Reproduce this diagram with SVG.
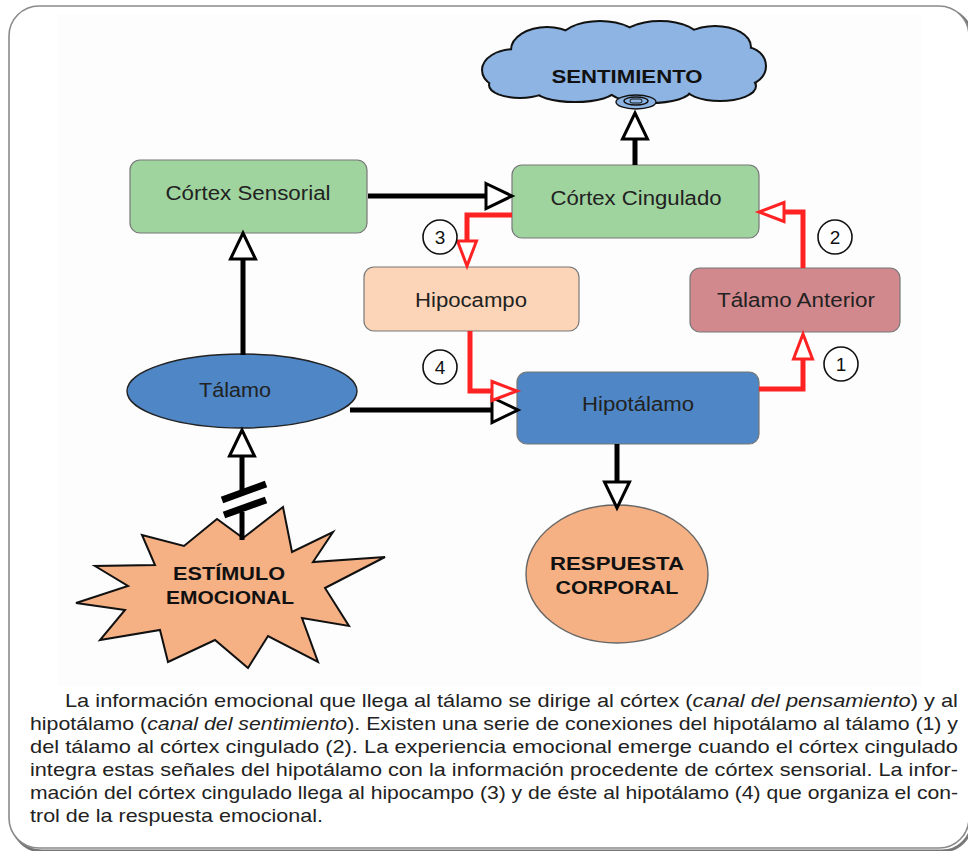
<svg xmlns="http://www.w3.org/2000/svg" width="968" height="851" viewBox="0 0 968 851">
<style>
.lbl{font-family:"Liberation Sans",Arial,sans-serif;font-size:20px;fill:#222;text-anchor:middle}
.bold{font-family:"Liberation Sans",Arial,sans-serif;font-size:19px;font-weight:bold;fill:#111;text-anchor:middle}
.num{font-family:"Liberation Sans",Arial,sans-serif;font-size:19px;fill:#111;text-anchor:middle}
.para{font-family:"Liberation Sans",Arial,sans-serif;font-size:19px;fill:#222}
.box{stroke:#777;stroke-width:1.2}
.blk{fill:none;stroke:#000;stroke-width:5}
.red{fill:none;stroke:#f22;stroke-width:5}
.circ{fill:#fff;stroke:#111;stroke-width:1.6}
.cs{fill:none;stroke:#111;stroke-width:4}
.cf{fill:#8db4e2;stroke:none}
</style>
<defs>
<marker id="ab" markerUnits="userSpaceOnUse" markerWidth="32" markerHeight="32" refX="1.5" refY="14" orient="auto" overflow="visible">
<path d="M1.5,1.5 L27.5,14 L1.5,26.5 Z" fill="#fff" stroke="#000" stroke-width="3" stroke-linejoin="miter"/>
</marker>
<marker id="ar" markerUnits="userSpaceOnUse" markerWidth="32" markerHeight="32" refX="1.5" refY="11" orient="auto" overflow="visible">
<path d="M1.5,1.5 L26.5,11 L1.5,20.5 Z" fill="#fff" stroke="#f22" stroke-width="3"/>
</marker>
</defs>

<g id="frame">
<rect x="12" y="9" width="960" height="842" rx="30" fill="none" stroke="#777" stroke-width="3"/>
<rect x="9" y="6" width="960" height="842" rx="30" fill="#fff" stroke="#8a8a8a" stroke-width="1.6"/>
<rect x="58" y="14" width="864" height="672" fill="#fdfdfd"/>
</g>

<g id="sentimiento">
<ellipse class="cs" cx="625" cy="68" rx="130" ry="26"/>
<ellipse class="cs" cx="515" cy="70" rx="32" ry="20"/>
<ellipse class="cs" cx="547" cy="50" rx="35" ry="22"/>
<ellipse class="cs" cx="600" cy="42" rx="40" ry="20"/>
<ellipse class="cs" cx="660" cy="41" rx="40" ry="19"/>
<ellipse class="cs" cx="715" cy="47" rx="35" ry="20"/>
<ellipse class="cs" cx="745" cy="66" rx="20" ry="18"/>
<ellipse class="cs" cx="720" cy="86" rx="35" ry="14"/>
<ellipse class="cs" cx="650" cy="90" rx="40" ry="12"/>
<ellipse class="cs" cx="575" cy="89" rx="40" ry="12"/>
<ellipse class="cs" cx="520" cy="85" rx="30" ry="12"/>
<ellipse class="cf" cx="625" cy="68" rx="130" ry="26"/>
<ellipse class="cf" cx="515" cy="70" rx="32" ry="20"/>
<ellipse class="cf" cx="547" cy="50" rx="35" ry="22"/>
<ellipse class="cf" cx="600" cy="42" rx="40" ry="20"/>
<ellipse class="cf" cx="660" cy="41" rx="40" ry="19"/>
<ellipse class="cf" cx="715" cy="47" rx="35" ry="20"/>
<ellipse class="cf" cx="745" cy="66" rx="20" ry="18"/>
<ellipse class="cf" cx="720" cy="86" rx="35" ry="14"/>
<ellipse class="cf" cx="650" cy="90" rx="40" ry="12"/>
<ellipse class="cf" cx="575" cy="89" rx="40" ry="12"/>
<ellipse class="cf" cx="520" cy="85" rx="30" ry="12"/>
<ellipse cx="636" cy="102" rx="20" ry="7" fill="#8db4e2" stroke="#111" stroke-width="1.4"/>
<ellipse cx="636" cy="101" rx="12" ry="4" fill="#8db4e2" stroke="#111" stroke-width="1.4"/>
<rect x="630" y="99" width="12" height="4" rx="2" fill="#8db4e2" stroke="#111" stroke-width="1"/>
<text class="bold" x="627" y="83" font-size="20" textLength="151" lengthAdjust="spacingAndGlyphs">SENTIMIENTO</text>
</g>

<g id="cortex-sensorial">
<rect class="box" x="130" y="160" width="237" height="73" rx="10" fill="#9fd49f"/>
<text class="lbl" x="248" y="200" textLength="165" lengthAdjust="spacingAndGlyphs">Córtex Sensorial</text>
</g>

<g id="cortex-cingulado">
<rect class="box" x="512" y="165" width="247" height="73" rx="10" fill="#9fd49f"/>
<text class="lbl" x="636" y="205" textLength="171" lengthAdjust="spacingAndGlyphs">Córtex Cingulado</text>
</g>

<g id="hipocampo">
<rect class="box" x="364" y="267" width="215" height="64" rx="10" fill="#fcd5b8"/>
<text class="lbl" x="471" y="307" textLength="112" lengthAdjust="spacingAndGlyphs">Hipocampo</text>
</g>

<g id="talamo-anterior">
<rect class="box" x="690" y="268" width="210" height="64" rx="10" fill="#d2898e"/>
<text class="lbl" x="796" y="307" textLength="158" lengthAdjust="spacingAndGlyphs">Tálamo Anterior</text>
</g>

<g id="hipotalamo">
<rect class="box" x="517" y="372" width="242" height="72" rx="10" fill="#4e86c6"/>
<text class="lbl" x="638" y="411" textLength="112" lengthAdjust="spacingAndGlyphs">Hipotálamo</text>
</g>

<g id="talamo">
<ellipse cx="242" cy="391" rx="115" ry="37" fill="#4e86c6" stroke="#222" stroke-width="1.4"/>
<text class="lbl" x="235" y="397" textLength="72" lengthAdjust="spacingAndGlyphs">Tálamo</text>
</g>

<g id="respuesta-corporal">
<ellipse cx="617" cy="574" rx="91" ry="69" fill="#f5b184" stroke="#666" stroke-width="1.4"/>
<text class="bold" x="617" y="570" font-size="20" textLength="134" lengthAdjust="spacingAndGlyphs">RESPUESTA</text>
<text class="bold" x="617" y="594" font-size="20" textLength="123" lengthAdjust="spacingAndGlyphs">CORPORAL</text>
</g>

<g id="estimulo-emocional">
<polygon points="283,507 292,552 333,532 313,562 385,557 325,588 349,626 302,618 318,662 268,636 248,668 215,640 168,662 160,630 100,640 125,610 76,603 128,586 95,566 155,565 142,535 184,546 217,519 243,538" fill="#f5b084" stroke="#111" stroke-width="2" stroke-linejoin="miter"/>
<text class="bold" x="229" y="580" font-size="20" textLength="112" lengthAdjust="spacingAndGlyphs">ESTÍMULO</text>
<text class="bold" x="230" y="604" font-size="20" textLength="128" lengthAdjust="spacingAndGlyphs">EMOCIONAL</text>
</g>

<g id="connectors">
<path class="blk" d="M243,355 L243,259" marker-end="url(#ab)"/>
<path class="blk" d="M368,196 L486,196" marker-end="url(#ab)"/>
<path class="blk" d="M635,165 L635,139" marker-end="url(#ab)"/>
<path class="blk" d="M350,410 L492,410" marker-end="url(#ab)"/>
<path class="blk" d="M617,444 L617,482" marker-end="url(#ab)"/>
<path class="blk" d="M242,540 L242,512"/>
<path class="blk" d="M242,494 L242,456" marker-end="url(#ab)"/>
<path d="M222,500 L266,484 M224,515 L266,500" stroke="#000" stroke-width="7" fill="none"/>
<path class="red" d="M512,215 L467,215 L467,241" marker-end="url(#ar)"/>
<path class="red" d="M470,331 L470,391 L492,391" marker-end="url(#ar)"/>
<path class="red" d="M759,389 L803,389 L803,359" marker-end="url(#ar)"/>
<path class="red" d="M803,268 L803,212 L784,212" marker-end="url(#ar)"/>
</g>

<g id="labels-num">
<circle class="circ" cx="440" cy="237" r="17"/><text class="num" x="440" y="244">3</text>
<circle class="circ" cx="440" cy="367" r="17"/><text class="num" x="440" y="374">4</text>
<circle class="circ" cx="835" cy="237" r="17"/><text class="num" x="835" y="244">2</text>
<circle class="circ" cx="841" cy="364" r="17"/><text class="num" x="841" y="371">1</text>
</g>

<g id="paragraph">
<text class="para" x="65" y="707" textLength="893" lengthAdjust="spacingAndGlyphs">La información emocional que llega al tálamo se dirige al córtex (<tspan font-style="italic">canal del pensamiento</tspan>) y al</text>
<text class="para" x="30" y="730" textLength="928" lengthAdjust="spacingAndGlyphs">hipotálamo (<tspan font-style="italic">canal del sentimiento</tspan>). Existen una serie de conexiones del hipotálamo al tálamo (1) y</text>
<text class="para" x="30" y="753" textLength="928" lengthAdjust="spacingAndGlyphs">del tálamo al córtex cingulado (2). La experiencia emocional emerge cuando el córtex cingulado</text>
<text class="para" x="30" y="776" textLength="928" lengthAdjust="spacingAndGlyphs">integra estas señales del hipotálamo con la información procedente de córtex sensorial. La infor-</text>
<text class="para" x="30" y="799" textLength="928" lengthAdjust="spacingAndGlyphs">mación del córtex cingulado llega al hipocampo (3) y de éste al hipotálamo (4) que organiza el con-</text>
<text class="para" x="30" y="822" textLength="293" lengthAdjust="spacingAndGlyphs">trol de la respuesta emocional.</text>
</g>
</svg>
